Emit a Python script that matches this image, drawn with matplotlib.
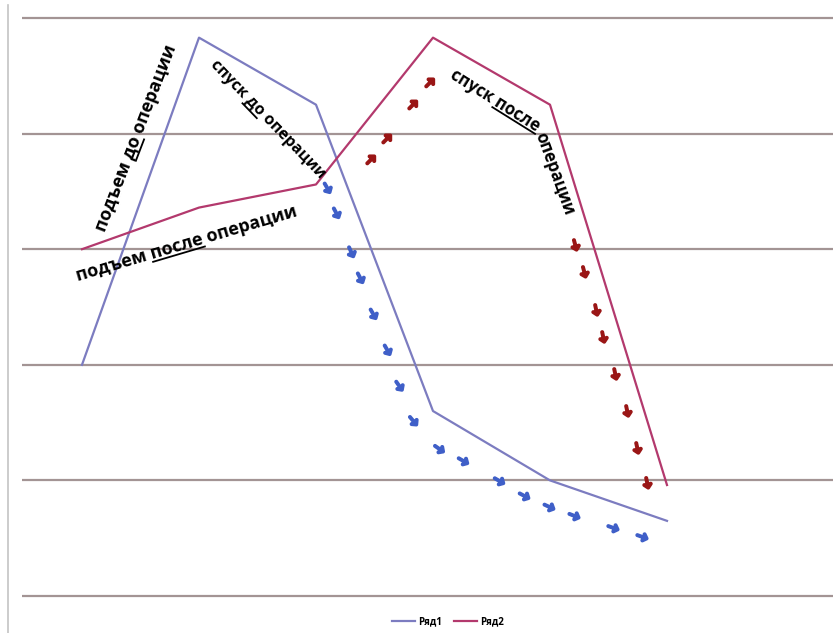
import matplotlib
matplotlib.use("Agg")
import matplotlib.pyplot as plt
import matplotlib.patheffects as pe
import numpy as np
from matplotlib import font_manager
from matplotlib.lines import Line2D
from matplotlib.transforms import IdentityTransform

# two series over six points
categories = [1, 2, 3, 4, 5, 6]
row1 = [2.0, 4.83, 4.25, 1.6, 1.0, 0.65]
row2 = [3.0, 3.36, 3.56, 4.83, 4.25, 0.96]
series_names = ["Ряд1", "Ряд2"]
y_ticks = [0, 1, 2, 3, 4, 5]

# direction arrows along the curves (x is category index from 0)
blue_arrow_x = [2.094, 2.171, 2.299, 2.376, 2.487, 2.607, 2.709, 2.829,
                3.051, 3.256, 3.564, 3.778, 3.991, 4.205, 4.538, 4.786]
blue_arrow_y = [3.529, 3.313, 2.976, 2.751, 2.439, 2.128, 1.817, 1.514,
                1.272, 1.168, 0.995, 0.865, 0.770, 0.692, 0.588, 0.510]
blue_arrow_rot = [-60, -62, -65, -62, -60, -60, -55, -50,
                  -35, -30, -30, -28, -25, -22, -20, -20]

red_up_x = [2.470, 2.607, 2.829, 2.974]
red_up_y = [3.772, 3.953, 4.247, 4.438]
red_up_rot = [45, 45, 45, 45]

red_down_x = [4.214, 4.291, 4.393, 4.453, 4.556, 4.658, 4.744, 4.829]
red_down_y = [3.036, 2.803, 2.474, 2.240, 1.920, 1.600, 1.280, 0.978]
red_down_rot = [-75, -75, -78, -78, -78, -78, -78, -78]

# captions: (before, underlined, after), x, y, rotation, size
captions = [
    (("подъем ", "до", " операции"), 0.504, 3.949, 69, 13),
    (("спуск ", "до", " операции"), 1.560, 4.096, -46, 11.5),
    (("подъем ", "после", " операции"), 0.906, 3.006, 16.5, 13),
    (("спуск ", "после", ""), 3.513, 4.252, -32, 12),
    (("операции", "", ""), 4.0, 3.642, -70, 12),
]


def pick_bold_family(names):
    for name in names:
        path = font_manager.findfont(
            font_manager.FontProperties(family=name, weight="bold"),
            fallback_to_default=False)
        if "bold" in path.lower() and name.split()[0].lower() in path.lower().replace("-", " "):
            return name
    return "DejaVu Sans"


label_font = pick_bold_family(["Open Sans", "Lato", "Roboto", "Liberation Sans"])

W, H = 833, 633
fig = plt.figure(figsize=(W / 100, H / 100), dpi=100)
fig.patch.set_facecolor("white")

ax = fig.add_axes([22 / W, (H - 600) / H, 1 - 22 / W, (600 - 14) / H])
x = np.arange(len(categories))
px_per_x = 117.0
ax.set_xlim(-60 / px_per_x, (W - 22 - 60) / px_per_x)
ax.set_ylim(-4 / 115.6, 5 + 4 / 115.6)

ax.set_yticks(y_ticks)
ax.set_xticks([])
ax.tick_params(left=False, labelleft=False, bottom=False, labelbottom=False)
ax.grid(axis="y", color="#a39494", linewidth=1.6)
ax.set_axisbelow(True)
for s in ax.spines.values():
    s.set_visible(False)

l1, = ax.plot(x, row1, color="#7c7cc0", linewidth=1.6, label=series_names[0])
l2, = ax.plot(x, row2, color="#b3396d", linewidth=1.6, label=series_names[1])

# arrows: heavy arrow glyph thickened with a same-colour stroke
arrow_kw = dict(ha="center", va="center", rotation_mode="anchor",
                fontsize=12, family="DejaVu Sans", fontweight="bold")
for xs_, ys_, rots, col in [(blue_arrow_x, blue_arrow_y, blue_arrow_rot, "#3f5fc8"),
                            (red_up_x, red_up_y, red_up_rot, "#9a1616"),
                            (red_down_x, red_down_y, red_down_rot, "#9a1616")]:
    for ax_x, ax_y, r in zip(xs_, ys_, rots):
        ax.text(ax_x, ax_y, "➜", rotation=r, color=col,
                path_effects=[pe.withStroke(linewidth=1.4, foreground=col)],
                **arrow_kw)

fig.canvas.draw()
renderer = fig.canvas.get_renderer()


def text_width(s, size):
    if not s:
        return 0.0
    t = ax.text(0, 0, s, fontsize=size, family=label_font, fontweight="bold")
    w = t.get_window_extent(renderer).width
    t.remove()
    return w


for (pre, word, post), cx, cy, rot, size in captions:
    full = pre + word + post
    ax.text(cx, cy, full, rotation=rot, rotation_mode="anchor",
            ha="center", va="baseline", fontsize=size,
            family=label_font, fontweight="bold", color="black")
    if not word:
        continue
    total = text_width(full, size)
    end = text_width(pre + word, size)
    start = end - text_width(word, size)
    x0 = -total / 2 + start
    x1 = -total / 2 + end
    yoff = -0.22 * size
    th = np.deg2rad(rot)
    c, s = np.cos(th), np.sin(th)
    ox, oy = ax.transData.transform((cx, cy))
    xs = [ox + x0 * c - yoff * s, ox + x1 * c - yoff * s]
    ys = [oy + x0 * s + yoff * c, oy + x1 * s + yoff * c]
    fig.add_artist(Line2D(xs, ys, transform=IdentityTransform(),
                          color="black", linewidth=1.3))

# thin border on the left of the chart area
fig.add_artist(Line2D([8 / W, 8 / W], [0, 1 - 5 / H], color="#c4c4c4", linewidth=1.2))

fig.legend(handles=[l1, l2], loc="center", bbox_to_anchor=(448 / W, 1 - 622 / H),
           ncol=2, frameon=False, handlelength=2.4,
           columnspacing=1.2, handletextpad=0.3,
           prop={"family": label_font, "weight": "bold", "size": 7})

fig.savefig("out.png", dpi=100, facecolor="white")
